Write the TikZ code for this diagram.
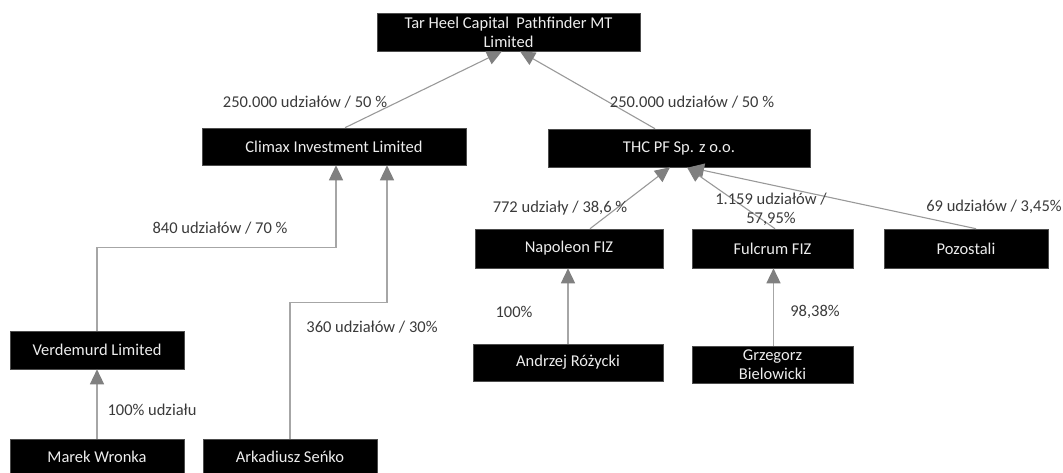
\documentclass[tikz,border=0pt]{standalone}
\usepackage{fontspec}
\setmainfont{Carlito}
\usetikzlibrary{arrows.meta}
\definecolor{linegray}{HTML}{A6A6A6}
\definecolor{diaggray}{HTML}{999999}
\definecolor{tipgray}{HTML}{808080}
\definecolor{boxtext}{HTML}{EDEDED}
\definecolor{labeltext}{HTML}{3A3A3A}
\tikzset{
  entity/.style={draw=black!70, line width=0.6pt, fill=black, text=boxtext, align=center,
    inner sep=0pt, font=\fontsize{16.5}{19}\selectfont},
  lbl/.style={text=labeltext, align=center, inner sep=0pt, font=\fontsize{16.5}{19}\selectfont},
  conn/.style={draw=linegray, line width=1.5pt,
    -{Triangle[width=14pt,length=15pt,color=tipgray,fill=tipgray]}},
  diag/.style={draw=diaggray, line width=1.1pt,
    -{Triangle[width=14pt,length=15pt,color=tipgray,fill=tipgray]}},
}
\begin{document}
\begin{tikzpicture}[x=1pt,y=-1pt]
\useasboundingbox (0,0) rectangle (1063,472);
% boxes
\node[entity, minimum width=263pt, minimum height=38pt] (top) at (508.5,32) {Tar Heel Capital\ \ Pathfinder MT\\Limited};
\node[entity, minimum width=264pt, minimum height=37pt] (climax) at (334,146.5) {Climax Investment Limited};
\node[entity, minimum width=262pt, minimum height=38pt] (thc) at (679,148) {THC PF Sp. z o.o.};
\node[entity, minimum width=188pt, minimum height=39pt] (napoleon) at (569,248.5) {Napoleon FIZ};
\node[entity, minimum width=161pt, minimum height=39pt] (fulcrum) at (772.5,248.5) {Fulcrum FIZ};
\node[entity, minimum width=164pt, minimum height=39pt] (pozostali) at (966,248.5) {Pozostali};
\node[entity, minimum width=174pt, minimum height=38pt] (verdemurd) at (97,350) {Verdemurd Limited};
\node[entity, minimum width=174pt, minimum height=36pt] (marek) at (97,457) {Marek Wronka};
\node[entity, minimum width=174pt, minimum height=36pt] (arkadiusz) at (290,457) {Arkadiusz Seńko};
\node[entity, minimum width=190pt, minimum height=37pt] (andrzej) at (568,362.5) {Andrzej Różycki};
\node[entity, minimum width=161pt, minimum height=37pt] (grzegorz) at (772.5,364.5) {Grzegorz\\Bielowicki};
% connectors
\draw[diag] ([xshift=11pt]climax.north) -- ([xshift=-6.5pt]top.south);
\draw[diag] ([xshift=-24pt]thc.north) -- ([xshift=11.5pt]top.south);
\draw[diag] ([xshift=21pt]napoleon.north) -- ([xshift=-9pt]thc.south);
\draw[diag] ([xshift=10pt]pozostali.north) -- ([xshift=10pt]thc.south);
\draw[diag] ([xshift=2.5pt]fulcrum.north) -- ([xshift=8pt]thc.south);
\draw[conn] (verdemurd.north) -- ++(0,-83) -| ([xshift=2pt]climax.south);
\draw[conn] (arkadiusz.north) -- ++(0,-136) -| ([xshift=53pt]climax.south);
\draw[conn] (marek.north) -- (verdemurd.south);
\draw[conn] (andrzej.north) -- (andrzej.north |- napoleon.south);
\draw[conn] ([xshift=1pt]grzegorz.north) -- ([xshift=1pt]fulcrum.south);
% labels
\node[lbl] (l1) at (305,102) {250.000 udziałów / 50 \%};
\node[lbl] (l2) at (692,102) {250.000 udziałów / 50 \%};
\node[lbl] (l3) at (220,228) {840 udziałów / 70 \%};
\node[lbl] (l4) at (372,327) {360 udziałów / 30\%};
\node[lbl] (l5) at (152,410) {100\% udziału};
\node[lbl] (l6) at (560,208) {772 udziały / 38,6 \%};
\node[lbl] (l7) at (771,209) {1.159 udziałów /\\57,95\%};
\node[lbl] (l8) at (994,207) {69 udziałów / 3,45\%};
\node[lbl] (l9) at (514,312) {100\%};
\node[lbl] (l10) at (815,312) {98,38\%};
\end{tikzpicture}
\end{document}
